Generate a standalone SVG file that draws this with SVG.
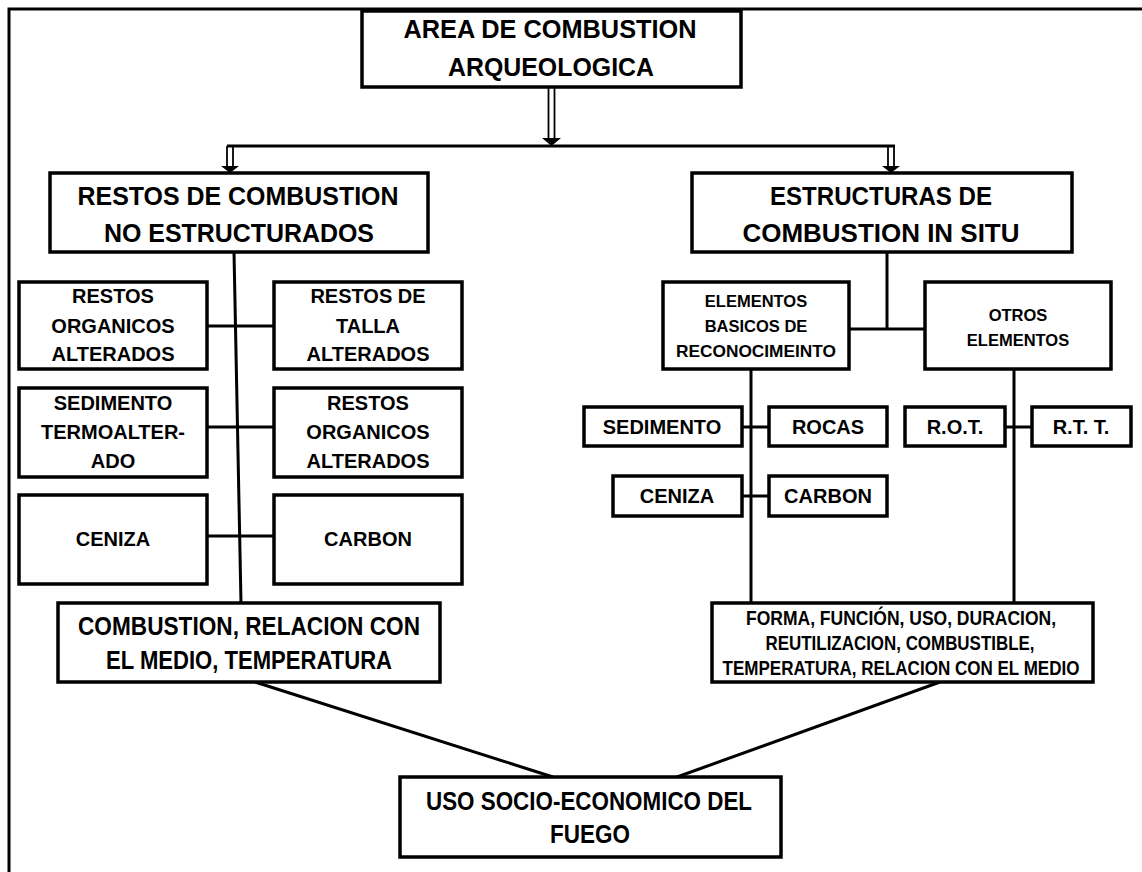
<svg xmlns="http://www.w3.org/2000/svg" width="1142" height="872" viewBox="0 0 1142 872">
<style>
.box{fill:#fff;stroke:#000;stroke-width:3.5}
.ln{stroke:#000;stroke-width:3;fill:none}
.dl{stroke:#000;stroke-width:1.8;fill:none}
text{font-family:"Liberation Sans",Arial,sans-serif;font-weight:bold;fill:#000;text-anchor:middle}
.n{font-size:25px}
.m{font-size:20px}
.s{font-size:16.5px}
.f{font-size:19.5px}
</style>
<rect x="9" y="9" width="1150" height="880" fill="#fff" stroke="#000" stroke-width="3"/>
<g id="connectors">
<line class="dl" x1="548.5" y1="87" x2="548.5" y2="139"/>
<line class="dl" x1="554.5" y1="87" x2="554.5" y2="139"/>
<polygon points="542,138 561,138 551.5,146"/>
<line class="ln" x1="227" y1="146" x2="895" y2="146"/>
<line class="dl" x1="227" y1="146" x2="227" y2="167"/>
<line class="dl" x1="233" y1="146" x2="233" y2="167"/>
<polygon points="221,166 239,166 230,173"/>
<line class="dl" x1="888" y1="146" x2="888" y2="167"/>
<line class="dl" x1="894" y1="146" x2="894" y2="167"/>
<polygon points="882,166 900,166 891,173"/>
<line class="ln" x1="234" y1="252" x2="241" y2="603"/>
<line class="ln" x1="207" y1="326" x2="274" y2="326"/>
<line class="ln" x1="207" y1="427" x2="274" y2="427"/>
<line class="ln" x1="207" y1="536" x2="274" y2="536"/>
<line class="ln" x1="887" y1="252" x2="887" y2="329"/>
<line class="ln" x1="849" y1="329" x2="925" y2="329"/>
<line class="ln" x1="751" y1="369" x2="751" y2="603"/>
<line class="ln" x1="1014" y1="369" x2="1014" y2="603"/>
<line class="ln" x1="742" y1="427" x2="769" y2="427"/>
<line class="ln" x1="1005" y1="427" x2="1032" y2="427"/>
<line class="ln" x1="742" y1="496" x2="769" y2="496"/>
<line class="ln" x1="255" y1="682" x2="553" y2="777"/>
<line class="ln" x1="940" y1="682" x2="677" y2="777"/>
</g>
<g id="n-area">
<rect class="box" x="362" y="11" width="379" height="76"/>
<text class="n" x="550" y="38" textLength="293" lengthAdjust="spacingAndGlyphs">AREA DE COMBUSTION</text>
<text class="n" x="551" y="76" textLength="206" lengthAdjust="spacingAndGlyphs">ARQUEOLOGICA</text>
</g>
<g id="n-restos">
<rect class="box" x="50" y="173" width="378" height="79"/>
<text class="n" x="238" y="205" textLength="321" lengthAdjust="spacingAndGlyphs">RESTOS DE COMBUSTION</text>
<text class="n" x="239" y="242" textLength="270" lengthAdjust="spacingAndGlyphs">NO ESTRUCTURADOS</text>
</g>
<g id="n-estructuras">
<rect class="box" x="692" y="173" width="380" height="79"/>
<text class="n" x="881" y="205" textLength="222" lengthAdjust="spacingAndGlyphs">ESTRUCTURAS DE</text>
<text class="n" x="881" y="242" textLength="277" lengthAdjust="spacingAndGlyphs">COMBUSTION IN SITU</text>
</g>
<g id="n-rest-org1">
<rect class="box" x="19" y="282" width="188" height="87"/>
<text class="m" x="113" y="303">RESTOS</text>
<text class="m" x="113" y="333">ORGANICOS</text>
<text class="m" x="113" y="361">ALTERADOS</text>
</g>
<g id="n-talla">
<rect class="box" x="274" y="282" width="188" height="87"/>
<text class="m" x="368" y="303">RESTOS DE</text>
<text class="m" x="368" y="333">TALLA</text>
<text class="m" x="368" y="361">ALTERADOS</text>
</g>
<g id="n-sedimento-l">
<rect class="box" x="19" y="388" width="188" height="89"/>
<text class="m" x="113" y="410">SEDIMENTO</text>
<text class="m" x="113" y="439">TERMOALTER-</text>
<text class="m" x="113" y="468">ADO</text>
</g>
<g id="n-rest-org2">
<rect class="box" x="274" y="388" width="188" height="89"/>
<text class="m" x="368" y="410">RESTOS</text>
<text class="m" x="368" y="439">ORGANICOS</text>
<text class="m" x="368" y="468">ALTERADOS</text>
</g>
<g id="n-ceniza-l">
<rect class="box" x="19" y="495" width="188" height="89"/>
<text class="m" x="113" y="546">CENIZA</text>
</g>
<g id="n-carbon-l">
<rect class="box" x="274" y="495" width="188" height="89"/>
<text class="m" x="368" y="546">CARBON</text>
</g>
<g id="n-elementos">
<rect class="box" x="663" y="282" width="186" height="87"/>
<text class="s" x="756" y="307">ELEMENTOS</text>
<text class="s" x="756" y="332">BASICOS DE</text>
<text class="s" x="756" y="357" textLength="160" lengthAdjust="spacingAndGlyphs">RECONOCIMEINTO</text>
</g>
<g id="n-otros">
<rect class="box" x="925" y="282" width="186" height="87"/>
<text class="s" x="1018" y="321">OTROS</text>
<text class="s" x="1018" y="346">ELEMENTOS</text>
</g>
<g id="n-sedimento-r">
<rect class="box" x="584" y="407" width="158" height="39"/>
<text class="m" x="662" y="434">SEDIMENTO</text>
</g>
<g id="n-rocas">
<rect class="box" x="769" y="407" width="118" height="39"/>
<text class="m" x="828" y="434">ROCAS</text>
</g>
<g id="n-rot">
<rect class="box" x="905" y="407" width="100" height="39"/>
<text class="m" x="955" y="434">R.O.T.</text>
</g>
<g id="n-rtt">
<rect class="box" x="1032" y="407" width="99" height="39"/>
<text class="m" x="1081" y="434">R.T. T.</text>
</g>
<g id="n-ceniza-r">
<rect class="box" x="613" y="476" width="129" height="40"/>
<text class="m" x="677" y="503">CENIZA</text>
</g>
<g id="n-carbon-r">
<rect class="box" x="769" y="476" width="118" height="40"/>
<text class="m" x="828" y="503">CARBON</text>
</g>
<g id="n-combustion">
<rect class="box" x="58" y="603" width="382" height="79"/>
<text class="n" x="249" y="635" textLength="342" lengthAdjust="spacingAndGlyphs">COMBUSTION, RELACION CON</text>
<text class="n" x="249" y="669" textLength="286" lengthAdjust="spacingAndGlyphs">EL MEDIO, TEMPERATURA</text>
</g>
<g id="n-forma">
<rect class="box" x="712" y="603" width="381" height="79"/>
<text class="f" x="901" y="625" textLength="310" lengthAdjust="spacingAndGlyphs">FORMA, FUNCIÓN, USO, DURACION,</text>
<text class="f" x="900" y="650" textLength="269" lengthAdjust="spacingAndGlyphs">REUTILIZACION, COMBUSTIBLE,</text>
<text class="f" x="901" y="675" textLength="357" lengthAdjust="spacingAndGlyphs">TEMPERATURA, RELACION CON EL MEDIO</text>
</g>
<g id="n-uso">
<rect class="box" x="400" y="777" width="381" height="80"/>
<text class="n" x="589" y="810" textLength="326" lengthAdjust="spacingAndGlyphs">USO SOCIO-ECONOMICO  DEL</text>
<text class="n" x="590" y="843" textLength="80" lengthAdjust="spacingAndGlyphs">FUEGO</text>
</g>
</svg>
